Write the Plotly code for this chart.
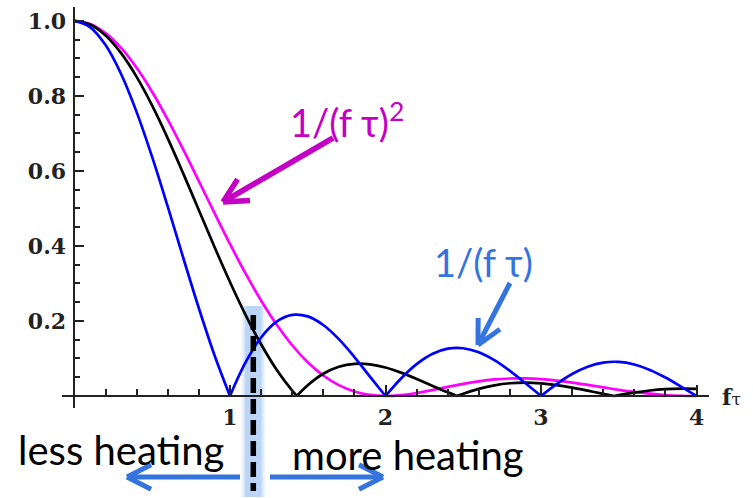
import math
import plotly.graph_objects as go

# ---- data: response vs. f*tau -------------------------------------------
ftau = [0.0, 0.1, 0.2, 0.3, 0.4, 0.5, 0.6, 0.7, 0.8, 0.9,
        1.0, 1.1, 1.2, 1.3, 1.4, 1.5, 1.6, 1.7, 1.8, 1.9,
        2.0, 2.1, 2.2, 2.3, 2.4, 2.5, 2.6, 2.7, 2.8, 2.9,
        3.0, 3.1, 3.2, 3.3, 3.4, 3.5, 3.6, 3.7, 3.8, 3.9, 4.0]

# falls off as 1/(f tau)
blue_y = [1.0, 0.9836, 0.9355, 0.8584, 0.7568, 0.6366, 0.5046, 0.3679, 0.2339, 0.1093,
          0.0, 0.0894, 0.1559, 0.1981, 0.2162, 0.2122, 0.1892, 0.1515, 0.1039, 0.0518,
          0.0, 0.0468, 0.0850, 0.1120, 0.1261, 0.1273, 0.1164, 0.0954, 0.0668, 0.0339,
          0.0, 0.0317, 0.0585, 0.0780, 0.0890, 0.0909, 0.0841, 0.0696, 0.0492, 0.0252, 0.0]

# falls off as 1/(f tau)^2
magenta_y = [1.0, 0.9918, 0.9675, 0.9282, 0.8751, 0.8106, 0.7368, 0.6566, 0.5727, 0.4881,
             0.4053, 0.3267, 0.2546, 0.1904, 0.1353, 0.0901, 0.0547, 0.0289, 0.0119, 0.0028,
             0.0, 0.0023, 0.0080, 0.0158, 0.0243, 0.0324, 0.0392, 0.0441, 0.0467, 0.0470,
             0.0450, 0.0411, 0.0358, 0.0295, 0.0230, 0.0165, 0.0108, 0.0061, 0.0027, 0.0007, 0.0]

black_x = [0.0, 0.1, 0.2, 0.3, 0.4, 0.5, 0.6, 0.7, 0.8, 0.9, 1.0, 1.1, 1.2, 1.3, 1.4, 1.43,
           1.5, 1.6, 1.7, 1.8, 1.9, 2.0, 2.1, 2.2, 2.3, 2.4, 2.46,
           2.5, 2.6, 2.7, 2.8, 2.9, 3.0, 3.1, 3.2, 3.3, 3.4, 3.47,
           3.5, 3.6, 3.7, 3.8, 3.9, 4.0]
black_y = [1.0, 0.9902, 0.9611, 0.9140, 0.8507, 0.7740, 0.6869, 0.5928, 0.4953, 0.3979,
           0.3040, 0.2165, 0.1379, 0.0701, 0.0144, 0.0,
           0.0287, 0.0592, 0.0778, 0.0857, 0.0844, 0.0760, 0.0623, 0.0455, 0.0273, 0.0097, 0.0,
           0.0062, 0.0191, 0.0285, 0.0340, 0.0356, 0.0338, 0.0291, 0.0223, 0.0142, 0.0058, 0.0,
           0.0023, 0.0092, 0.0146, 0.0181, 0.0195, 0.0190]

x_ticks = [1, 2, 3, 4]
y_ticks = [0.2, 0.4, 0.6, 0.8, 1.0]
y_ticktext = ["0.2", "0.4", "0.6", "0.8", "1.0"]

threshold_ftau = 1.15

# ---- geometry ------------------------------------------------------------
W, H = 753, 498
ML, MR, MT, MB = 62, 44, 7, 90
X_RANGE = [-0.08, 4.08]
Y_RANGE = [-0.032, 1.037]


def paper_x(px):
    return (px - ML) / (W - ML - MR)


def paper_y(py):
    return (H - MB - py) / (H - MT - MB)


def data_to_px(x):
    return ML + (x - X_RANGE[0]) / (X_RANGE[1] - X_RANGE[0]) * (W - ML - MR)


def split_at_cusps(xs, ys):
    """Break a rectified curve at its zeros so each lobe is smoothed on its own."""
    out_x, out_y = [], []
    for i, (x, y) in enumerate(zip(xs, ys)):
        out_x.append(x)
        out_y.append(y)
        if y == 0 and 0 < i < len(xs) - 1:
            out_x += [None, x]
            out_y += [None, y]
    return out_x, out_y


fig = go.Figure()

curves = [
    (ftau, magenta_y, "#FF00FF", False),
    (black_x, black_y, "#000000", True),
    (ftau, blue_y, "#0000FF", True),
]
for xs, ys, col, cusps in curves:
    if cusps:
        xs, ys = split_at_cusps(xs, ys)
    fig.add_trace(go.Scatter(
        x=xs, y=ys, mode="lines", connectgaps=False,
        line=dict(color=col, width=2.7, shape="spline", smoothing=1.0),
        hoverinfo="skip", showlegend=False,
    ))

shapes = []
annotations = []

# soft glow behind the threshold marker
gx = data_to_px(threshold_ftau)
for half, alpha in [(12, 0.16), (10, 0.28), (8, 0.42)]:
    shapes.append(dict(
        type="rect", xref="paper", yref="paper", layer="below",
        x0=paper_x(gx - half), x1=paper_x(gx + half),
        y0=paper_y(497), y1=paper_y(306),
        fillcolor=f"rgba(150,190,240,{alpha})", line=dict(width=0),
    ))
shapes.append(dict(
    type="line", xref="paper", yref="paper",
    x0=paper_x(gx), x1=paper_x(gx), y0=paper_y(315), y1=paper_y(491),
    line=dict(color="black", width=5.5, dash="15px,6px"),
))


def add_arrow(tail, tip, color, width, arm=27, ang=27):
    tx, ty = tail
    hx, hy = tip
    d = math.hypot(tx - hx, ty - hy)
    ux, uy = (tx - hx) / d, (ty - hy) / d
    segs = [(tail, tip)]
    for s in (1, -1):
        a = math.radians(ang * s)
        rx = ux * math.cos(a) - uy * math.sin(a)
        ry = ux * math.sin(a) + uy * math.cos(a)
        segs.append(((hx + arm * rx, hy + arm * ry), tip))
    for (x0, y0), (x1, y1) in segs:
        shapes.append(dict(
            type="line", xref="paper", yref="paper",
            x0=paper_x(x0), y0=paper_y(y0), x1=paper_x(x1), y1=paper_y(y1),
            line=dict(color=color, width=width),
        ))


MAGENTA_TXT = "#C400C4"
BLUE_TXT = "#3574DE"

add_arrow((333, 138), (223, 202), MAGENTA_TXT, 5.5)
add_arrow((510, 283), (478, 345), BLUE_TXT, 5)
add_arrow((240, 477), (127, 477), BLUE_TXT, 5)
add_arrow((270, 477), (383, 477), BLUE_TXT, 5)

label_font = "Lato, Carlito, Calibri, sans-serif"


def add_text(text, px, py, color, size, family=label_font, anchor="left"):
    annotations.append(dict(
        text=text, xref="paper", yref="paper", x=paper_x(px), y=paper_y(py),
        xanchor=anchor, yanchor="middle", showarrow=False,
        font=dict(family=family, size=size, color=color),
    ))


add_text("1/(f τ)<sup>2</sup>", 288, 120, MAGENTA_TXT, 38)
add_text("1/(f τ)", 432, 262, BLUE_TXT, 38)
add_text("less heating", 16, 450, "black", 40)
add_text("more heating", 290, 455, "black", 40)

# axis name at the end of the horizontal axis
add_text("<b>f</b><span style='font-size:17px'>τ</span>", 720, 397, "#222", 22,
         family="DejaVu Serif, serif")

tick_font = dict(family="DejaVu Serif, serif", size=22, color="#222", weight="bold")
axis_col = "#222"

fig.update_layout(
    width=W, height=H,
    margin=dict(l=ML, r=MR, t=MT, b=MB, pad=0),
    paper_bgcolor="white", plot_bgcolor="white",
    showlegend=False,
    shapes=shapes, annotations=annotations,
    xaxis=dict(
        range=X_RANGE, anchor="free",
        position=(0 - Y_RANGE[0]) / (Y_RANGE[1] - Y_RANGE[0]),
        showline=True, linecolor=axis_col, linewidth=1.8,
        showgrid=False, zeroline=False,
        tickmode="array", tickvals=x_ticks, ticktext=[str(t) for t in x_ticks],
        ticks="inside", ticklen=10, tickwidth=1.6, tickcolor=axis_col,
        tickfont=tick_font, ticklabelstandoff=2,
        minor=dict(tick0=0, dtick=0.2, ticks="inside", ticklen=6,
                   tickwidth=1.5, tickcolor=axis_col, showgrid=False),
    ),
    yaxis=dict(
        range=Y_RANGE, anchor="free",
        position=(0 - X_RANGE[0]) / (X_RANGE[1] - X_RANGE[0]),
        showline=True, linecolor=axis_col, linewidth=1.8,
        showgrid=False, zeroline=False,
        tickmode="array", tickvals=y_ticks, ticktext=y_ticktext,
        ticks="inside", ticklen=9, tickwidth=1.6, tickcolor=axis_col,
        tickfont=tick_font, ticklabelstandoff=3,
        minor=dict(tick0=0, dtick=0.05, ticks="inside", ticklen=5,
                   tickwidth=1.5, tickcolor=axis_col, showgrid=False),
    ),
)

fig.write_html("out.html")
